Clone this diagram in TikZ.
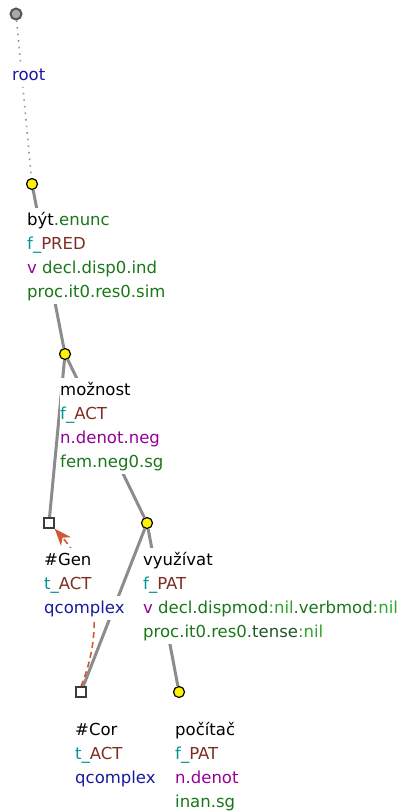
\documentclass[tikz,border=0pt]{standalone}
\usepackage{fontspec}
\setmainfont{DejaVu Sans}
\usetikzlibrary{arrows.meta,backgrounds}
\definecolor{gramc}{RGB}{25,120,25}
\definecolor{nilc}{RGB}{45,165,45}
\definecolor{darkg}{RGB}{35,85,35}
\definecolor{funcc}{RGB}{0,150,150}
\definecolor{fnamec}{RGB}{125,45,35}
\definecolor{semc}{RGB}{150,0,150}
\definecolor{navyc}{RGB}{25,25,160}
\definecolor{corefc}{RGB}{205,90,50}
\definecolor{edgec}{RGB}{140,140,140}
\definecolor{dotc}{RGB}{150,150,150}
\definecolor{rootfill}{RGB}{170,170,170}
\definecolor{rootdraw}{RGB}{85,85,85}
\definecolor{sqdraw}{RGB}{60,60,60}
\newcommand\labline[4]{\node[lab] (#1) at (#2,#3) {#4};}
\begin{document}
\begin{tikzpicture}[x=1pt,y=-1pt,
  tnode/.style={circle, draw=black, line width=1.2pt, fill=yellow, minimum size=11pt, inner sep=0pt},
  rootnode/.style={circle, draw=rootdraw, line width=2pt, fill=rootfill, minimum size=11pt, inner sep=0pt},
  sqnode/.style={rectangle, draw=sqdraw, line width=1.3pt, fill=white, minimum size=10pt, inner sep=0pt},
  lab/.style={anchor=base west, fill=white, inner sep=0pt, text height=16.8pt, text depth=7.2pt, font=\fontsize{16.5}{24}\selectfont},
  tedge/.style={draw=edgec, line width=3pt},
  rootedge/.style={draw=dotc, line width=1.6pt, dash pattern=on 1.6pt off 5pt},
  coref/.style={draw=corefc, line width=1.6pt, dash pattern=on 6pt off 4pt, -{Stealth[length=17pt,width=13pt,inset=5pt]}}
]
\useasboundingbox (0,0) rectangle (402,812);

% nodes
\node[rootnode] (root) at (16,14) {};
\node[tnode] (byt) at (32,184) {};
\node[tnode] (moz) at (65,354) {};
\node[sqnode] (gen) at (49,523) {};
\node[tnode] (vyu) at (147,523) {};
\node[sqnode] (cor) at (81,692) {};
\node[tnode] (poc) at (179,692) {};

% labels
\labline{lroot}{12}{80}{\textcolor{navyc}{root}}

\labline{lbyta}{27}{225}{být\textcolor{gramc}{.enunc}}
\labline{lbytb}{27}{249}{\textcolor{funcc}{f\_}\textcolor{fnamec}{PRED}}
\labline{lbytc}{27}{273}{\textcolor{semc}{v} \textcolor{gramc}{decl.disp0.ind}}
\labline{lbytd}{27}{297}{\textcolor{gramc}{proc.it0.res0.sim}}

\labline{lmoza}{60}{395}{možnost}
\labline{lmozb}{60}{419}{\textcolor{funcc}{f\_}\textcolor{fnamec}{ACT}}
\labline{lmozc}{60}{443}{\textcolor{semc}{n.denot.neg}}
\labline{lmozd}{60}{467}{\textcolor{gramc}{fem.neg0.sg}}

\labline{lgena}{44}{565}{\#Gen}
\labline{lgenb}{44}{589}{\textcolor{funcc}{t\_}\textcolor{fnamec}{ACT}}
\labline{lgenc}{44}{613}{\textcolor{navyc}{qcomplex}}

\labline{lvyua}{143}{565}{využívat}
\labline{lvyub}{143}{589}{\textcolor{funcc}{f\_}\textcolor{fnamec}{PAT}}
\labline{lvyuc}{143}{613}{\textcolor{semc}{v} \textcolor{gramc}{decl.dispmod}\textcolor{nilc}{:nil}\textcolor{gramc}{.verbmod}\textcolor{nilc}{:nil}}
\labline{lvyud}{143}{637}{\textcolor{gramc}{proc.it0.res0.}\textcolor{darkg}{tense}\textcolor{nilc}{:nil}}

\labline{lcora}{75}{735}{\#Cor}
\labline{lcorb}{75}{759}{\textcolor{funcc}{t\_}\textcolor{fnamec}{ACT}}
\labline{lcorc}{75}{783}{\textcolor{navyc}{qcomplex}}

\labline{lpoca}{175}{735}{počítač}
\labline{lpocb}{175}{759}{\textcolor{funcc}{f\_}\textcolor{fnamec}{PAT}}
\labline{lpocc}{175}{783}{\textcolor{semc}{n.denot}}
\labline{lpocd}{175}{807}{\textcolor{gramc}{inan.sg}}

% connectors
\begin{pgfonlayer}{background}
\draw[rootedge] (root) -- (byt);
\draw[tedge] (byt) -- (moz);
\draw[tedge] (moz) -- (gen);
\draw[tedge] (moz) -- (vyu);
\draw[tedge] (vyu) -- (cor);
\draw[tedge] (vyu) -- (poc);
\draw[coref] (cor.north) .. controls (114,605) and (76,553) .. (gen.south east);
\end{pgfonlayer}
\end{tikzpicture}
\end{document}
